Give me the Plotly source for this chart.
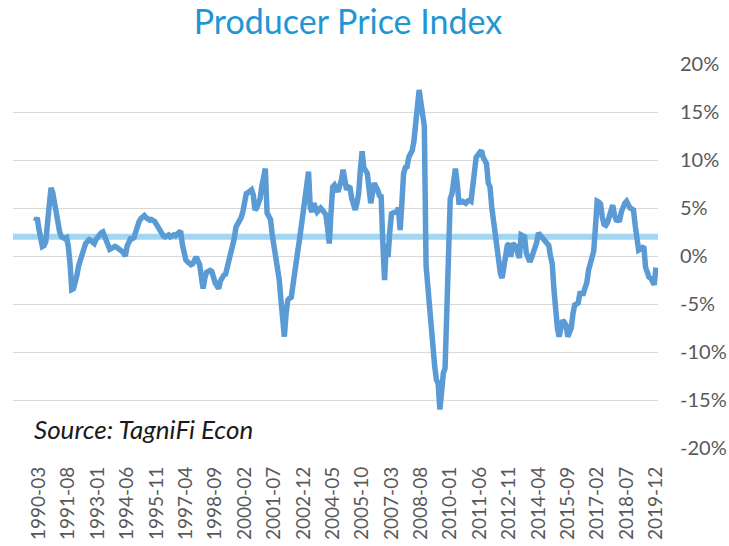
import pandas as pd
import plotly.graph_objects as go

# Monthly year-over-year change in the Producer Price Index (%), 1990-01 .. 2019-12
ppi_1990s = [
    3.6, 4.0, 2.8, 1.6, 1.0, 1.1, 1.5, 3.5, 5.5, 7.1, 6.6, 5.4,        # 1990
    4.4, 3.5, 2.5, 2.0, 1.9, 1.8, 1.9, 1.0, -0.8, -3.5, -3.4, -2.8,    # 1991
    -2.0, -1.0, -0.3, 0.4, 0.9, 1.3, 1.5, 1.7, 1.6, 1.4, 1.3, 1.7,     # 1992
    2.0, 2.2, 2.4, 2.5, 2.0, 1.5, 1.0, 0.7, 0.8, 1.0, 1.0, 0.9,        # 1993
    0.8, 0.6, 0.5, 0.3, 0.0, 1.0, 1.4, 1.8, 1.8, 1.9, 2.5, 3.2,        # 1994
    3.6, 3.9, 4.1, 4.2, 4.0, 3.8, 3.75, 3.8, 3.7, 3.6, 3.3, 3.0,       # 1995
    2.6, 2.3, 2.1, 2.0, 2.1, 2.2, 2.0, 2.1, 2.2, 2.1, 2.3, 2.5,        # 1996
    2.6, 1.2, 0.0, -0.4, -0.6, -0.8, -0.9, -0.8, -0.4, -0.1, -0.5, -0.9,  # 1997
    -2.2, -3.4, -2.3, -1.7, -1.6, -1.5, -1.6, -2.3, -2.8, -3.1, -3.4, -2.6,  # 1998
    -2.2, -2.0, -1.9, -1.2, -0.5, 0.0, 0.8, 1.8, 3.0, 3.3, 3.6, 4.0,   # 1999
]
ppi_2000s = [
    4.6, 5.6, 6.5, 6.6, 6.7, 6.9, 6.4, 4.8, 5.0, 5.4, 6.0, 7.3,        # 2000
    8.5, 9.1, 4.5, 4.2, 3.8, 2.2, 1.0, 0.2, -0.8, -2.4, -4.5, -6.0,    # 2001
    -8.4, -6.0, -4.6, -4.4, -4.3, -3.0, -2.0, -0.8, 0.8, 2.0, 3.3, 4.5,  # 2002
    6.0, 7.5, 8.8, 5.0, 4.6, 5.5, 5.0, 4.6, 4.8, 5.0, 4.8, 4.5,        # 2003
    4.3, 3.0, 1.3, 4.5, 7.2, 7.4, 7.0, 6.7, 7.3, 7.9, 9.0, 7.5,        # 2004
    6.9, 7.2, 7.1, 6.0, 5.2, 4.8, 5.5, 6.5, 9.0, 10.9, 9.2, 8.8,       # 2005
    8.6, 7.0, 5.5, 6.5, 7.6, 7.2, 6.9, 6.3, 6.2, 1.3, -2.5, 1.3,       # 2006
    -0.1, 2.5, 4.4, 4.5, 4.6, 4.6, 5.0, 2.7, 5.5, 8.6, 9.2, 9.3,       # 2007
    10.3, 10.6, 11.0, 12.0, 13.5, 15.2, 17.3, 16.0, 14.9, 13.5, -1.0, -3.5,  # 2008
    -4.9, -7.0, -9.1, -11.5, -12.9, -13.3, -16.0, -14.0, -12.2, -11.7, -4.9, 2.0,  # 2009
]
ppi_2010s = [
    6.0, 6.5, 8.0, 9.1, 7.6, 5.6, 5.6, 5.7, 5.6, 5.5, 5.7, 5.8,        # 2010
    5.7, 7.6, 9.5, 10.3, 10.5, 10.8, 11.0, 10.3, 10.0, 9.6, 7.6, 7.2,  # 2011
    5.1, 3.5, 2.5, 0.8, -0.3, -1.8, -2.3, -1.0, 0.8, 1.1, 1.3, -0.1,   # 2012
    1.3, 1.2, 1.0, 0.3, -0.2, 2.2, 2.1, 2.0, 0.3, -0.3, -0.6, -0.2,    # 2013
    0.3, 0.8, 1.4, 2.4, 2.2, 1.8, 1.6, 1.4, 1.3, 1.1, 0.0, -0.8,       # 2014
    -3.5, -6.7, -7.5, -8.4, -7.6, -6.7, -6.9, -7.2, -8.4, -8.0, -7.5, -6.0,  # 2015
    -5.1, -5.0, -4.9, -3.9, -3.9, -3.9, -3.3, -2.8, -1.5, -0.8, 0.0, 0.5,  # 2016
    3.0, 5.7, 5.6, 5.4, 4.0, 3.3, 3.2, 3.5, 4.1, 4.8, 5.3, 4.3,        # 2017
    3.75, 3.7, 3.75, 4.6, 5.3, 5.5, 5.7, 5.3, 5.0, 4.9, 4.8, 3.2,      # 2018
    1.2, 0.6, 0.7, 0.8, 1.0, -1.2, -2.0, -2.2, -2.3, -2.6, -3.0, -1.2, # 2019
]

target_rate = 2.0

tick_labels = ["1990-03", "1991-08", "1993-01", "1994-06", "1995-11", "1997-04",
               "1998-09", "2000-02", "2001-07", "2002-12", "2004-05", "2005-10",
               "2007-03", "2008-08", "2010-01", "2011-06", "2012-11", "2014-04",
               "2015-09", "2017-02", "2018-07", "2019-12"]

y_tick_values = [20, 15, 10, 5, 0, -5, -10, -15, -20]
y_tick_labels = ["20%", "15%", "10%", "5%", "0%", "-5%", "-10%", "-15%", "-20%"]

values = ppi_1990s + ppi_2000s + ppi_2010s
months = pd.date_range("1990-01-01", periods=len(values), freq="MS").strftime("%Y-%m").tolist()

FONT = "Lato"
GRAY = "#595959"

fig = go.Figure()
fig.add_trace(go.Scatter(
    x=months, y=values, mode="lines",
    line=dict(color="#5b9bd5", width=5.5, shape="linear"),
    hoverinfo="x+y", showlegend=False,
))

fig.add_shape(type="line", xref="paper", yref="y", x0=0, x1=1,
              y0=target_rate, y1=target_rate,
              line=dict(color="#a3d6f0", width=6), layer="below")

fig.update_layout(
    width=729, height=546,
    margin=dict(l=13, r=71, t=64, b=98, autoexpand=False),
    paper_bgcolor="white", plot_bgcolor="white",
    title=dict(text="Producer Price Index", x=348 / 729, xanchor="center",
               y=1 - 22 / 546, yanchor="middle", automargin=False,
               font=dict(family=FONT, size=34, color="#1f96d5")),
    xaxis=dict(type="category", range=[-13.0, 360.2], automargin=False,
               tickmode="array", tickvals=tick_labels, ticktext=tick_labels,
               tickangle=-90, showgrid=False, zeroline=False, showline=False,
               ticks="", ticklabelstandoff=14,
               tickfont=dict(family=FONT, size=19, color=GRAY)),
    yaxis=dict(range=[-20, 20], side="right", tickmode="array", automargin=False,
               tickvals=y_tick_values, ticktext=y_tick_labels,
               showgrid=True, gridcolor="#d9d9d9", gridwidth=1,
               zeroline=False, showline=False, ticks="",
               ticklabelstandoff=21,
               tickfont=dict(family=FONT, size=20, color=GRAY)),
    annotations=[dict(text="<i>Source: TagniFi Econ</i>", xref="paper", yref="paper",
                      x=(32 - 13) / 645, xanchor="left",
                      y=(448 - 429) / 384, yanchor="middle", showarrow=False,
                      font=dict(family=FONT, size=26, color="#1a1a1a"))],
)

fig.write_html("out.html", config={"displayModeBar": False},
               post_script="document.body.style.margin='0px';document.body.style.overflow='hidden';")
